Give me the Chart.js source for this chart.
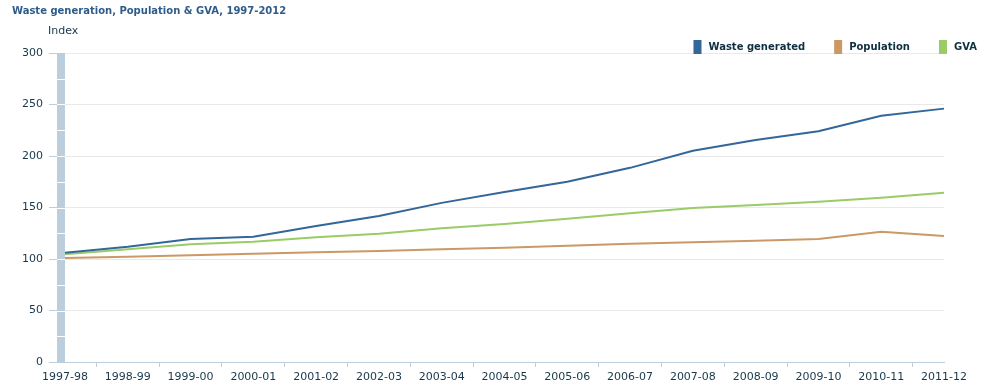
<!DOCTYPE html>
<html>
<head>
<meta charset="utf-8">
<script src="https://cdn.jsdelivr.net/npm/chart.js@4.4.1/dist/chart.umd.min.js"></script>
<style>
  html, body { margin: 0; padding: 0; background: #ffffff; }
  #wrap { width: 1000px; height: 392px; position: relative; }
</style>
</head>
<body>
<div id="wrap"><canvas id="c" width="1000" height="392"></canvas></div>
<script>
const categories = ['1997-98','1998-99','1999-00','2000-01','2001-02','2002-03','2003-04','2004-05','2005-06','2006-07','2007-08','2008-09','2009-10','2010-11','2011-12'];
const wasteGenerated = [106, 112, 119.5, 121.5, 132, 141.7, 154.5, 165, 175, 188.5, 205, 215.5, 224, 239, 246];
const population = [101, 102.3, 103.6, 105.2, 106.5, 107.8, 109.5, 111, 112.9, 114.7, 116.3, 117.8, 119.4, 126.5, 122.3];
const gva = [104.5, 109.4, 114.3, 116.8, 121, 124.5, 129.8, 134, 139, 144.3, 149.5, 152.4, 155.6, 159.5, 164.4];
const yTicks = [0, 50, 100, 150, 200, 250, 300];
const chartTitle = 'Waste generation, Population & GVA, 1997-2012';
const yAxisTitle = 'Index';

const FONT = "'DejaVu Sans', Verdana, sans-serif";
const TEXT_DARK = '#17384a';
const AXIS_BLUE = '#bccddc';

const decorPlugin = {
  id: 'decor',
  afterDraw(chart) {
    const ctx = chart.ctx;
    const ca = chart.chartArea;
    const y = chart.scales.y;
    ctx.save();
    // band left of plot
    ctx.fillStyle = AXIS_BLUE;
    ctx.fillRect(ca.left - 8, ca.top, 8, ca.bottom - ca.top);
    ctx.fillStyle = '#ffffff';
    for (let v = 25; v < 300; v += 25) {
      const py = Math.round(y.getPixelForValue(v));
      ctx.fillRect(ca.left - 8, py, 8, 1);
    }
    // title
    ctx.fillStyle = '#2e5c8a';
    ctx.font = 'bold 10px ' + FONT;
    ctx.textBaseline = 'middle';
    ctx.textAlign = 'left';
    ctx.fillText(chartTitle, 12, 11.5);
    // y axis title
    ctx.fillStyle = TEXT_DARK;
    ctx.font = '11px ' + FONT;
    ctx.fillText(yAxisTitle, 48, 31.5);
    // legend
    ctx.font = 'bold 10px ' + FONT;
    const ds = chart.data.datasets;
    const gapText = 7, gapItem = 29, boxW = 8, boxH = 14;
    let total = 0;
    const widths = ds.map(d => ctx.measureText(d.label).width);
    widths.forEach((w, i) => { total += boxW + gapText + w + (i < widths.length - 1 ? gapItem : 0); });
    let x = 977 - total;
    ds.forEach((d, i) => {
      ctx.fillStyle = d.borderColor;
      ctx.fillRect(x, 40, boxW, boxH);
      ctx.fillStyle = '#0f3040';
      ctx.fillText(d.label, x + boxW + gapText, 47.5);
      x += boxW + gapText + widths[i] + gapItem;
    });
    ctx.restore();
  }
};

new Chart(document.getElementById('c'), {
  type: 'line',
  data: {
    labels: categories,
    datasets: [
      { label: 'Waste generated', data: wasteGenerated, borderColor: '#336699', backgroundColor: '#336699', borderWidth: 2, pointRadius: 0, tension: 0, fill: false },
      { label: 'Population', data: population, borderColor: '#cc9966', backgroundColor: '#cc9966', borderWidth: 2, pointRadius: 0, tension: 0, fill: false },
      { label: 'GVA', data: gva, borderColor: '#99cc66', backgroundColor: '#99cc66', borderWidth: 2, pointRadius: 0, tension: 0, fill: false }
    ]
  },
  options: {
    responsive: false,
    animation: false,
    devicePixelRatio: 1,
    layout: { padding: { top: 53, right: 56, left: 0, bottom: 0 } },
    plugins: {
      legend: { display: false },
      title: { display: false },
      tooltip: { enabled: false }
    },
    scales: {
      x: {
        type: 'category',
        offset: false,
        afterFit(scale) { scale.height = 30; },
        grid: { offset: true, drawOnChartArea: false, drawTicks: true, tickLength: 5, tickColor: AXIS_BLUE, color: AXIS_BLUE },
        border: { display: true, color: AXIS_BLUE, width: 1 },
        ticks: { autoSkip: false, maxRotation: 0, minRotation: 0, padding: 4, color: TEXT_DARK, font: { family: FONT, size: 11 } }
      },
      y: {
        min: 0,
        max: 300,
        afterFit(scale) { scale.width = 65; },
        afterBuildTicks(scale) { scale.ticks = yTicks.map(v => ({ value: v })); },
        grid: { color: '#e9e9e9', tickColor: AXIS_BLUE, tickLength: 16, lineWidth: 1 },
        border: { display: false },
        ticks: { padding: 6, color: TEXT_DARK, font: { family: FONT, size: 11 } }
      }
    }
  },
  plugins: [decorPlugin]
});
</script>
</body>
</html>
